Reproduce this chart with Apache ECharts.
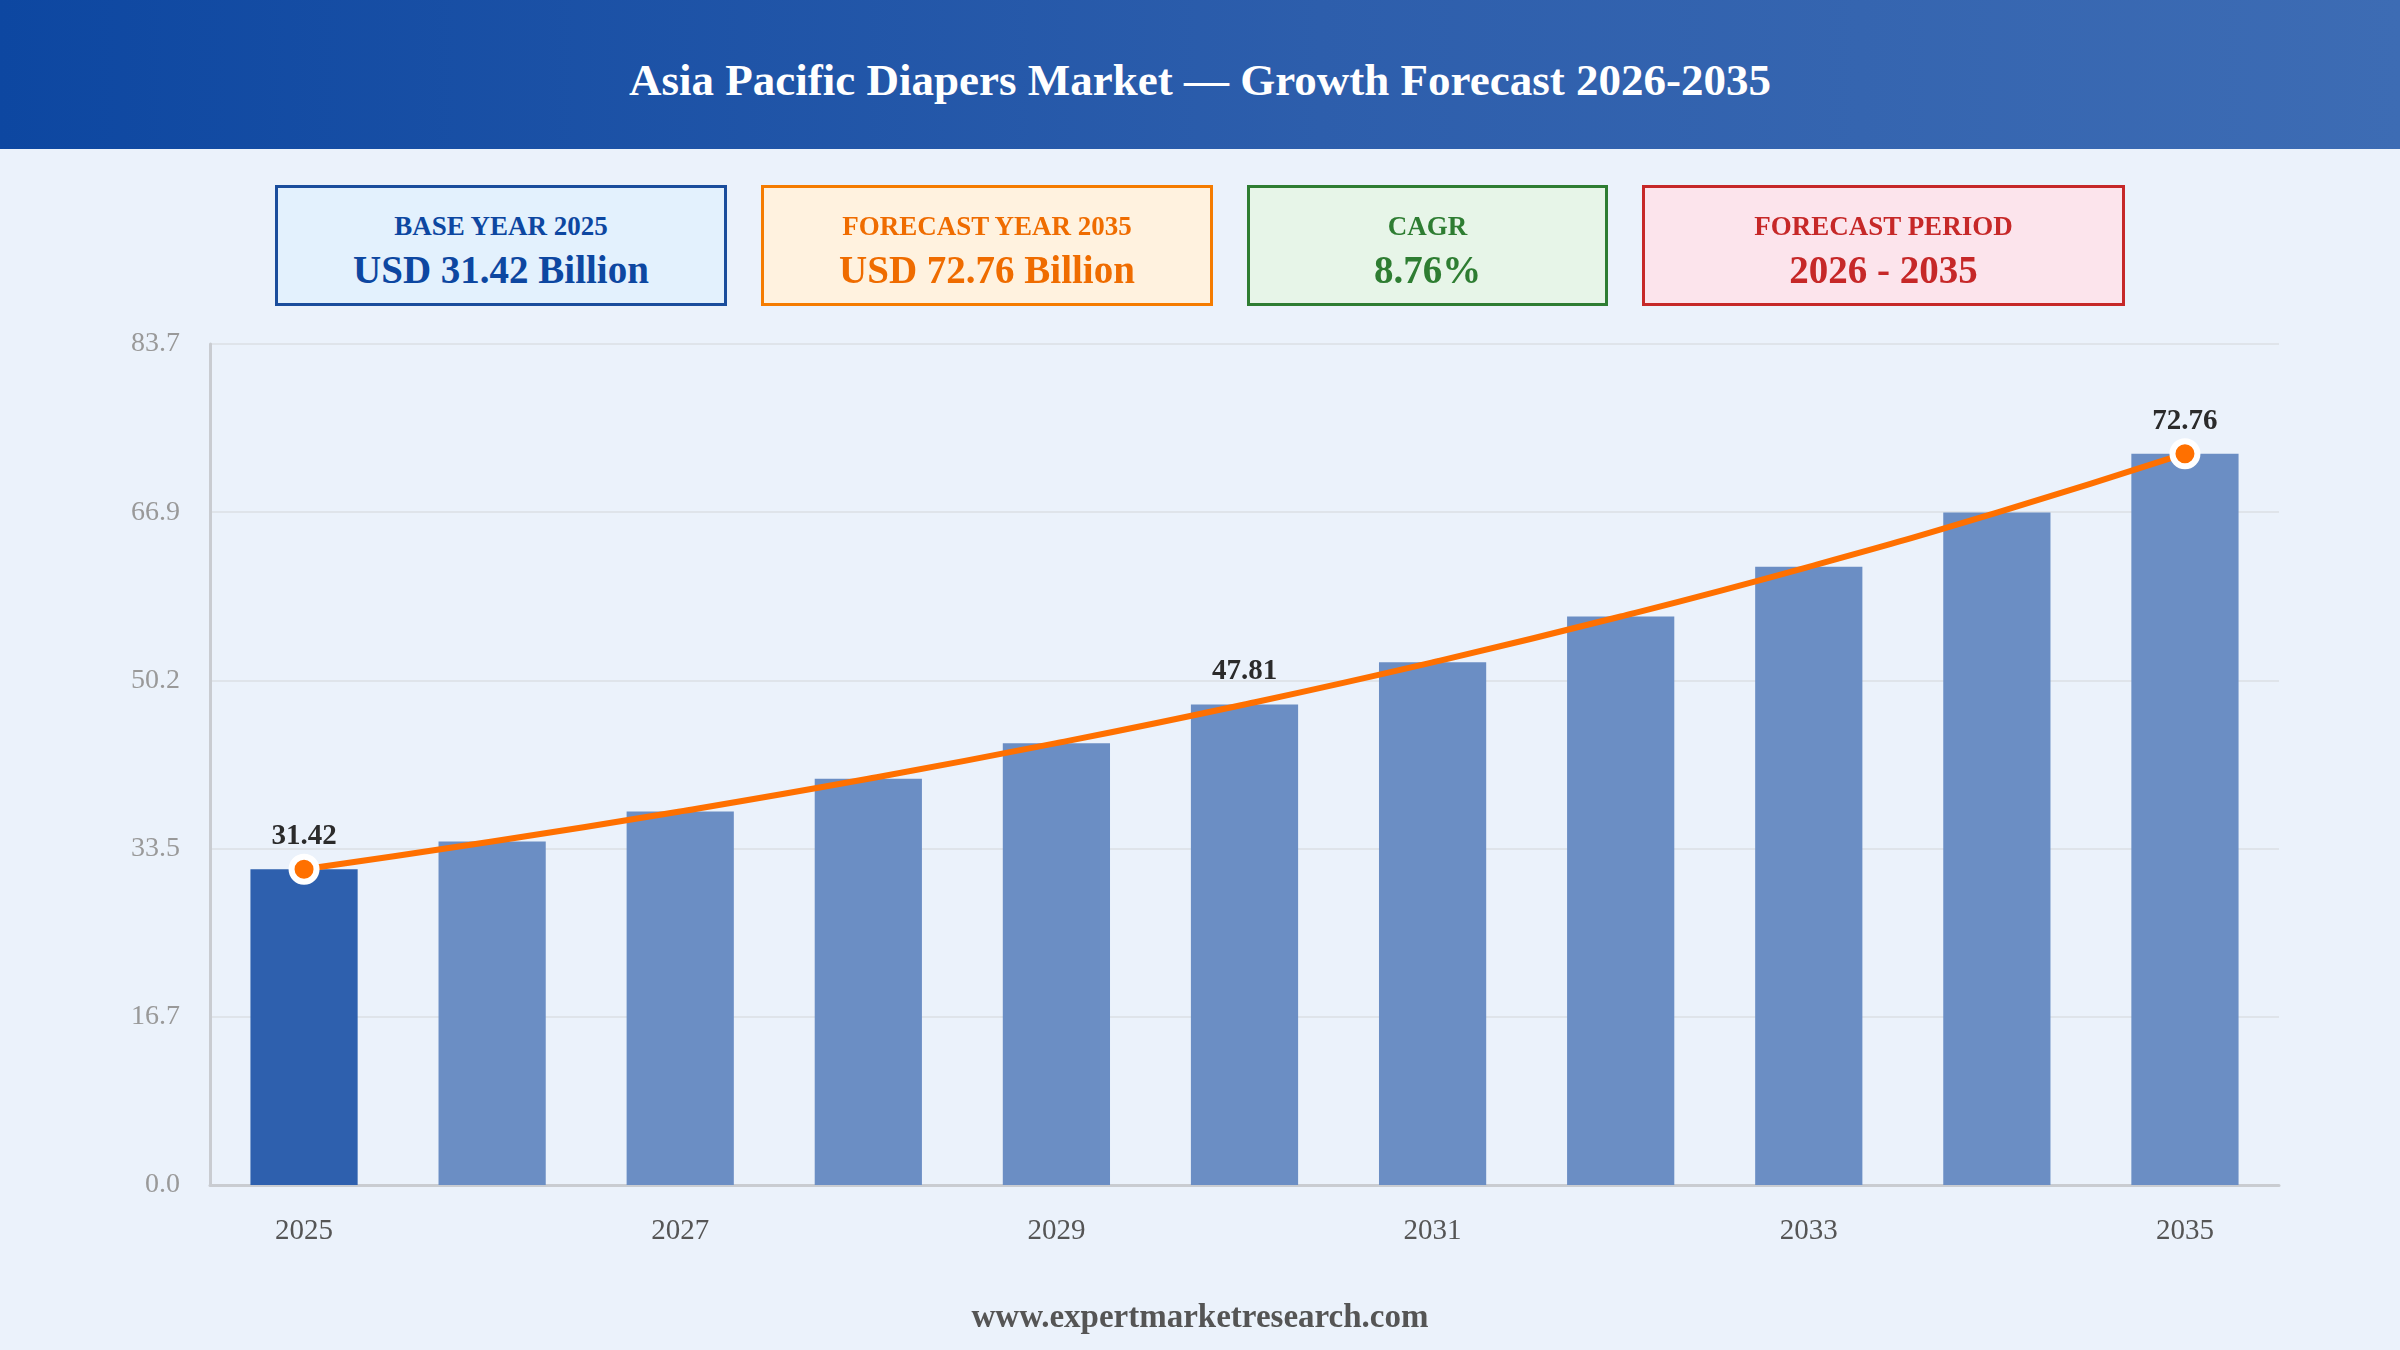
<!DOCTYPE html>
<html>
<head>
<meta charset="utf-8">
<script src="https://cdn.jsdelivr.net/npm/echarts@6/dist/echarts.min.js"></script>
<style>
  html, body { margin:0; padding:0; width:2400px; height:1350px; background:#ebf2fb; overflow:hidden; font-family:"Liberation Serif","Times New Roman",serif; }
  #header { position:absolute; left:0; top:0; width:2400px; height:149px;
    background:linear-gradient(90deg,#0d47a1 0%,#2d5eac 55%,#3d6cb4 100%);
    color:#fff; font-weight:bold; font-size:45px; text-align:center; line-height:160px; }
  .box { position:absolute; top:185px; height:115px; border:3px solid; box-sizing:content-box; text-align:center; font-weight:bold; }
  .box .lab { position:absolute; left:0; right:0; top:22px; font-size:27px; line-height:32px; }
  .box .val { position:absolute; left:0; right:0; top:59px; font-size:39px; line-height:46px; }
  #chart { position:absolute; left:0; top:0; width:2400px; height:1350px; }
  #footer { position:absolute; left:0; width:2400px; top:1298px; text-align:center; font-weight:bold; font-size:33px; color:#555; }
</style>
</head>
<body>
<div id="chart"></div>
<div id="header">Asia Pacific Diapers Market — Growth Forecast 2026-2035</div>
<div class="box" style="left:275px;width:446px;border-color:#1a4d9c;background:#e3f1fd;color:#0d47a1;">
  <div class="lab">BASE YEAR 2025</div><div class="val">USD 31.42 Billion</div></div>
<div class="box" style="left:761px;width:446px;border-color:#f57c00;background:#fff2df;color:#ef6c00;">
  <div class="lab">FORECAST YEAR 2035</div><div class="val">USD 72.76 Billion</div></div>
<div class="box" style="left:1247px;width:355px;border-color:#2e7d32;background:#e7f5e8;color:#2e7d32;">
  <div class="lab">CAGR</div><div class="val">8.76%</div></div>
<div class="box" style="left:1642px;width:477px;border-color:#c62828;background:#fce4ec;color:#c62828;">
  <div class="lab">FORECAST PERIOD</div><div class="val">2026 - 2035</div></div>
<div id="footer">www.expertmarketresearch.com</div>
<script>
const years = ['2025','2026','2027','2028','2029','2030','2031','2032','2033','2034','2035'];
const marketValues = [31.42, 34.17, 37.17, 40.42, 43.96, 47.81, 52.00, 56.56, 61.51, 66.90, 72.76];
const labelledIndices = [0, 5, 10];
const markerIndices = [0, 10];
const yMax = 83.674;
const yStep = yMax / 5;

const chart = echarts.init(document.getElementById('chart'));
const barData = marketValues.map((v, i) => ({
  value: v,
  itemStyle: { color: i === 0 ? '#2e60ae' : '#6b8ec4' },
  label: { show: labelledIndices.includes(i) }
}));
const lineData = marketValues.map((v, i) => ({
  value: v,
  symbol: markerIndices.includes(i) ? 'circle' : 'none'
}));
chart.setOption({
  backgroundColor: 'transparent',
  animation: false,
  grid: { left: 210, right: 121, top: 344, bottom: 165 },
  xAxis: {
    type: 'category',
    data: years,
    axisLine: { lineStyle: { color: '#c9ccd1', width: 3 } },
    axisTick: { show: false },
    axisLabel: { interval: 1, color: '#555', fontSize: 29, fontFamily: 'Liberation Serif', margin: 32 }
  },
  yAxis: {
    type: 'value',
    min: 0, max: yMax, interval: yStep,
    axisLine: { show: true, lineStyle: { color: '#c9ccd1', width: 3 } },
    axisTick: { show: false },
    splitLine: { lineStyle: { color: '#dfe4ea', width: 2 } },
    axisLabel: { color: '#999', fontSize: 28, fontFamily: 'Liberation Serif', margin: 30,
      padding: [10, 0, 0, 0],
      formatter: v => v.toFixed(1) }
  },
  series: [
    {
      type: 'bar',
      data: barData,
      barWidth: '57%',
      label: { position: 'top', distance: 18, color: '#2b2b2b', fontSize: 29, fontWeight: 'bold', fontFamily: 'Liberation Serif',
        formatter: p => p.value.toFixed(2) },
      z: 2
    },
    {
      type: 'line',
      data: lineData,
      smooth: true,
      symbolSize: 25,
      lineStyle: { color: '#ff7000', width: 6 },
      itemStyle: { color: '#ff7000', borderColor: '#fff', borderWidth: 6 },
      z: 3
    }
  ]
});
</script>
</body>
</html>
